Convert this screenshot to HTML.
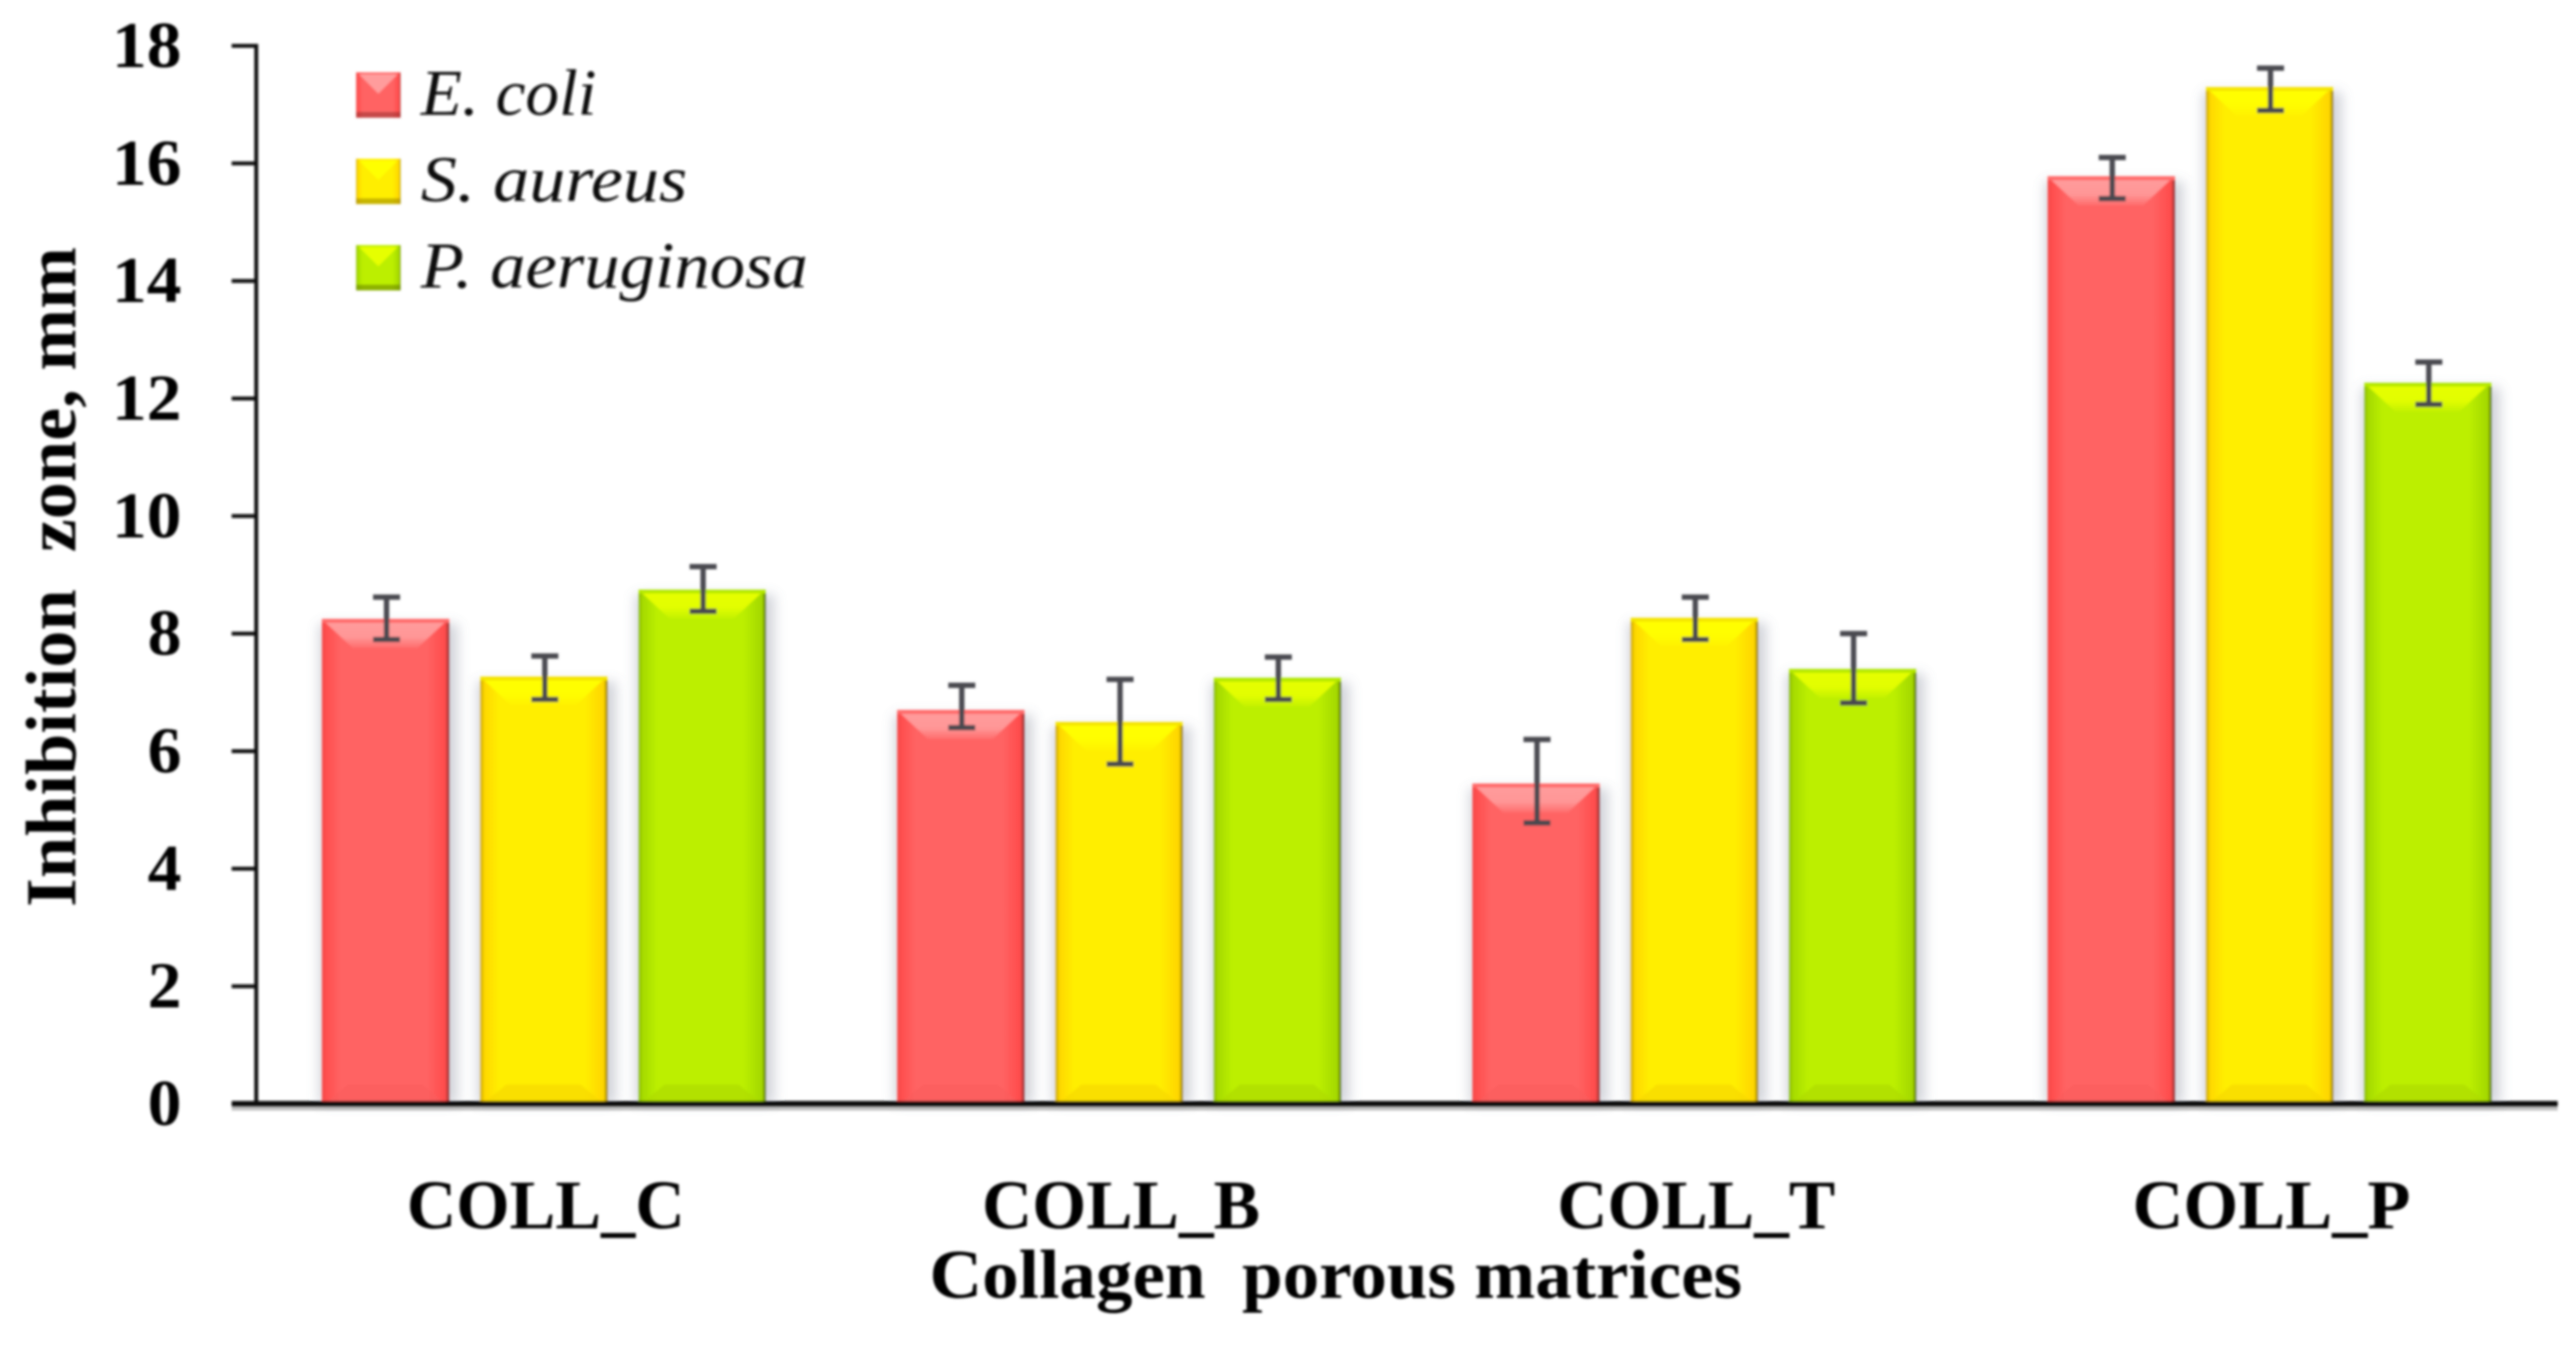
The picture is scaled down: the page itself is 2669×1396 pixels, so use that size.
<!DOCTYPE html>
<html lang="en">
<head>
<meta charset="utf-8">
<title>Inhibition zone chart</title>
<style>
html,body{margin:0;padding:0;background:#fff;width:2669px;height:1396px;overflow:hidden}
svg{display:block}
text{font-family:"Liberation Serif","DejaVu Serif",serif;fill:#000}
.b{font-weight:bold}
.i{font-style:italic;fill:#111}
</style>
</head>
<body>
<svg id="chart" xmlns="http://www.w3.org/2000/svg" width="2669" height="1396" viewBox="0 0 2669 1396">
<defs>
<filter id="soft" x="-2%" y="-2%" width="104%" height="104%"><feGaussianBlur stdDeviation="1.2"/></filter>
<filter id="shadowBlur" x="-30%" y="-10%" width="160%" height="120%"><feGaussianBlur stdDeviation="6"/></filter>
</defs>
<g id="root" filter="url(#soft)"></g>
</svg>
<script>
const categories = ["COLL_C", "COLL_B", "COLL_T", "COLL_P"];
const seriesNames = ["E. coli", "S. aureus", "P. aeruginosa"];
const eColiValues = [8.25, 6.7, 5.45, 15.78];
const sAureusValues = [7.27, 6.5, 8.27, 17.3];
const pAeruginosaValues = [8.75, 7.25, 7.4, 12.27];
const eColiErrLow = [7.9, 6.4, 4.78, 15.4];
const eColiErrHigh = [8.62, 7.12, 6.2, 16.1];
const sAureusErrLow = [6.88, 5.78, 7.9, 16.9];
const sAureusErrHigh = [7.62, 7.22, 8.62, 17.62];
const pAeruginosaErrLow = [8.38, 6.88, 6.82, 11.9];
const pAeruginosaErrHigh = [9.14, 7.6, 8.0, 12.62];
const yTickLabels = [0, 2, 4, 6, 8, 10, 12, 14, 16, 18];

const NS = "http://www.w3.org/2000/svg";
const root = document.getElementById("root");
const defs = document.querySelector("defs");
const Y0 = 1144, Y18 = 47.5, X0 = 265.5, BAND = 596, BAR_W = 132, BAR_STEP = 164;
function yScale(v) { return Y0 - (v / 18) * (Y0 - Y18); }
function groupCenter(i) { return X0 + BAND * (i + 0.5); }
function barLeft(g, s) { return groupCenter(g) + (s - 1) * BAR_STEP - BAR_W / 2; }

const valueSets = [eColiValues, sAureusValues, pAeruginosaValues];
const lowSets = [eColiErrLow, sAureusErrLow, pAeruginosaErrLow];
const highSets = [eColiErrHigh, sAureusErrHigh, pAeruginosaErrHigh];
const keys = ["e-coli", "s-aureus", "p-aeruginosa"];
const palette = [
  { body: "#ff6464", side: "#ff4e4e", edgeL: "#f24a4a", edgeR: "#7e2626", top: "#ff9c9c", topEdge: "#ff6a6a", bottom: "#fb5c5c" },
  { body: "#ffee00", side: "#ffd800", edgeL: "#c9a700", edgeR: "#857000", top: "#ffff00", topEdge: "#f4e400", bottom: "#f6d800" },
  { body: "#bcef00", side: "#a6db00", edgeL: "#8ebc00", edgeR: "#546800", top: "#e6ff00", topEdge: "#b4e800", bottom: "#aedb00" }
];

function make(tag, attrs, parent) {
  const el = document.createElementNS(NS, tag);
  for (const k in attrs) el.setAttribute(k, attrs[k]);
  (parent || root).appendChild(el);
  return el;
}

palette.forEach(function (p, i) {
  const g = make("linearGradient", { id: "body" + i, x1: "0", x2: "1", y1: "0", y2: "0" }, defs);
  [[0, p.edgeL], [0.035, p.side], [0.15, p.body], [0.82, p.body], [0.95, p.side], [0.97, p.side], [1, p.edgeR]].forEach(function (st) {
    make("stop", { offset: st[0], "stop-color": st[1] }, g);
  });
  const t = make("linearGradient", { id: "bevel" + i, x1: "0", x2: "0", y1: "0", y2: "1" }, defs);
  [[0, p.top, 1], [0.6, p.top, 0.9], [1, p.top, 0.15]].forEach(function (st) {
    make("stop", { offset: st[0], "stop-color": st[1], "stop-opacity": st[2] }, t);
  });
});

// Bars
categories.forEach(function (cat, g) {
  valueSets.forEach(function (vals, s) {
    const p = palette[s];
    const x = barLeft(g, s);
    const y = yScale(vals[g]);
    const h = Y0 - y;
    const group = make("g", {});
    
    
    make("rect", { x: x - 3, y: y + 5, width: BAR_W + 12, height: h - 5, fill: "#8a90a0", opacity: 0.38, filter: "url(#shadowBlur)" }, group);
    make("rect", { x: x, y: y, width: BAR_W, height: h, fill: "url(#body" + s + ")" }, group);
    const bev = 30;
    make("polygon", { points: [x + 2, y + 2, x + BAR_W - 3, y + 2, x + BAR_W - 3 - bev, y + bev, x + 2 + bev, y + bev].join(" "), fill: "url(#bevel" + s + ")" }, group);
    make("rect", { x: x, y: y, width: BAR_W, height: 4, fill: p.topEdge }, group);
    make("polygon", { points: [x + 3, Y0, x + BAR_W - 4, Y0, x + BAR_W - 4 - 24, Y0 - 20, x + 3 + 24, Y0 - 20].join(" "), fill: p.bottom, opacity: 0.7 }, group);
  });
});

// Axes
const xShadow = make("rect", { x: 240, y: 1147, width: 2410, height: 4, fill: "#999", opacity: 0.6 });


const xAxis = make("rect", { x: 240, y: 1141, width: 2410, height: 6, fill: "#111" });


const yAxis = make("rect", { x: X0 - 2, y: yScale(18) - 2, width: 4, height: Y0 - yScale(18) + 2, fill: "#111" });



yTickLabels.forEach(function (t) {
  const y = yScale(t);
  const tick = make("rect", { x: 240, y: y - 2, width: 26, height: 4, fill: "#111" });
  
  
  const two = String(t).length > 1;
  const label = make("text", { x: 188, y: y + 22, "text-anchor": "end", "font-size": 68, class: "b", textLength: two ? 72 : 35, lengthAdjust: "spacingAndGlyphs" });
  label.textContent = t;
  
  
});

// Error bars
categories.forEach(function (cat, g) {
  valueSets.forEach(function (vals, s) {
    const cx = barLeft(g, s) + BAR_W / 2 + 1;
    const yHi = yScale(highSets[s][g]);
    const yLo = yScale(lowSets[s][g]);
    const eb = make("path", { d: "M" + (cx - 14) + " " + yHi + "H" + (cx + 14) + "M" + cx + " " + yHi + "V" + yLo + "M" + (cx - 14) + " " + yLo + "H" + (cx + 14), stroke: "#4a4a4f", "stroke-width": 5.5, fill: "none" });
    
    
  });
});

// Category labels
categories.forEach(function (cat, g) {
  const t = make("text", { x: groupCenter(g) + 2, y: 1273, "text-anchor": "middle", "font-size": 72, class: "b", textLength: 288, lengthAdjust: "spacingAndGlyphs" });
  t.textContent = cat;
  
  
});

// Legend
seriesNames.forEach(function (name, s) {
  const p = palette[s];
  const top = 75 + s * 89.5;
  const sw = make("g", {});
  
  
  make("rect", { x: 369, y: top, width: 46, height: 47, fill: "url(#body" + s + ")" }, sw);
  make("polygon", { points: [372, top + 2, 412, top + 2, 392, top + 22].join(" "), fill: p.top }, sw);
  make("rect", { x: 369, y: top + 41, width: 46, height: 6, fill: p.edgeR, opacity: 0.45 }, sw);
  const t = make("text", { x: 436, y: 119 + s * 89.5, "font-size": 68, class: "i", textLength: [182, 276, 401][s], lengthAdjust: "spacingAndGlyphs" });
  t.textContent = name;
  
  
});

// Titles
const xTitle = make("text", { x: 963, y: 1345, "font-size": 72, class: "b", textLength: 842, lengthAdjust: "spacingAndGlyphs" });
xTitle.textContent = "Collagen  porous matrices";
xTitle.style.whiteSpace = "pre";



const yTitle = make("text", { transform: "translate(78 940) rotate(-90)", "font-size": 74, class: "b", textLength: 684, lengthAdjust: "spacingAndGlyphs" });
yTitle.textContent = "Inhibition  zone, mm";
yTitle.style.whiteSpace = "pre";


</script>
</body>
</html>
